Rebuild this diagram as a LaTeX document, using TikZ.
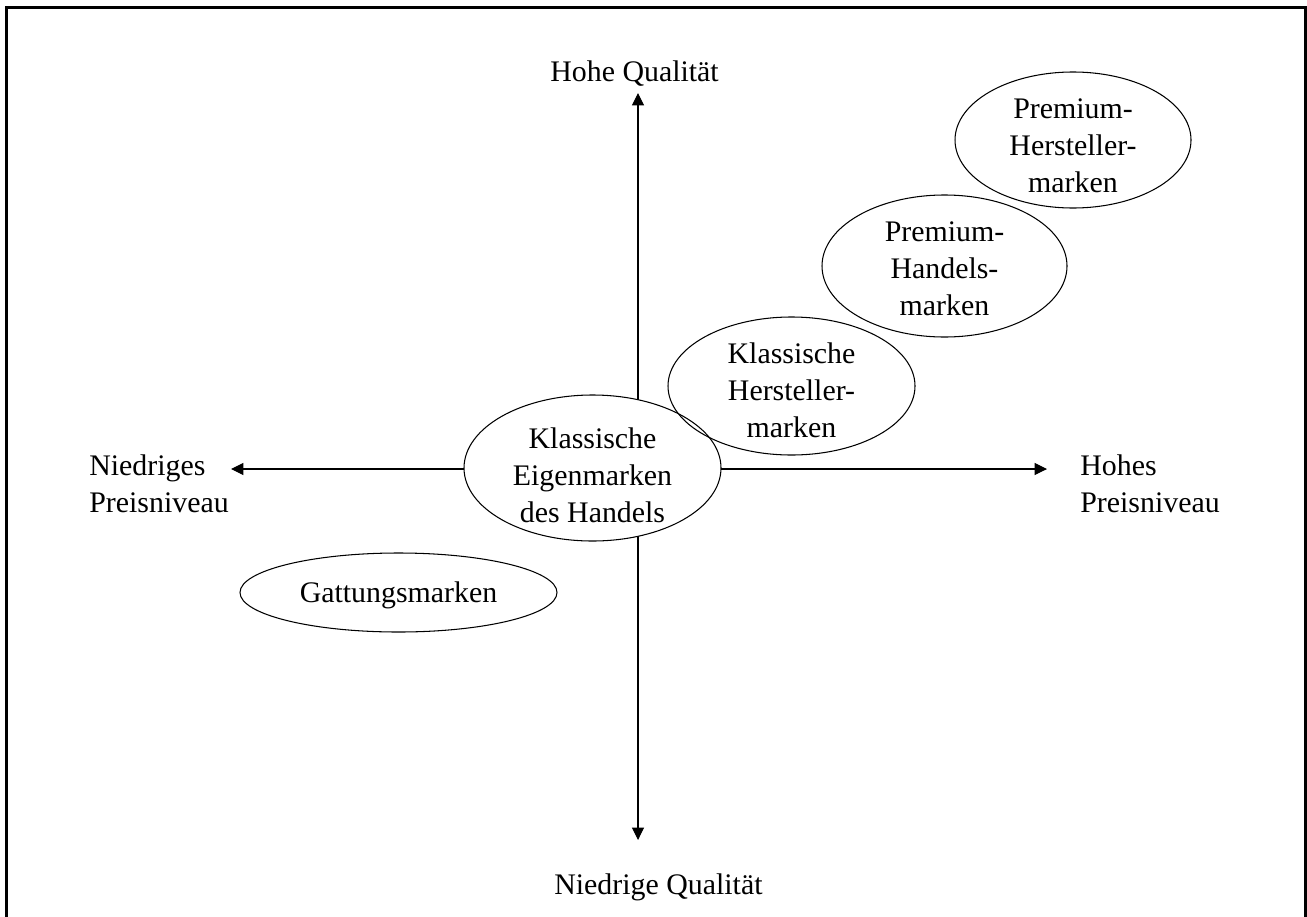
\documentclass[tikz,border=0pt]{standalone}
\usepackage{fontspec}
\setmainfont{Liberation Serif}
\usepackage{tikz}
\usetikzlibrary{arrows.meta,shapes.geometric,positioning}
\definecolor{axisBlack}{RGB}{0,0,0}
\tikzset{
  brandellipse/.style={
    ellipse, draw=black, line width=0.6pt, inner sep=0pt
  },
  brandtext/.style={inner sep=0pt, align=center, font=\fontsize{17}{21}\selectfont},
  axislabel/.style={inner sep=0pt, align=left, font=\fontsize{17}{21}\selectfont},
  axisArrow/.style={-{Triangle[length=7pt,width=6.8pt]}, line width=0.6pt, color=axisBlack}
}

\begin{document}
\begin{tikzpicture}[x=0.02cm, y=-0.02cm]
        \useasboundingbox (0,0) rectangle (1307,916);
        % frame (open at the bottom)
        \draw[line width=1.7pt] (6.2,925) |- (1305.5,7.7) -- (1305.5,925);
        % axes
        \coordinate (o)  at (638,469);
        \coordinate (yt) at (638,93);
        \coordinate (yb) at (638,840);
        \coordinate (xl) at (231,469);
        \coordinate (xr) at (1047,469);
        \draw[axisArrow] (o) -- (yt);
        \draw[axisArrow] (o) -- (yb);
        \draw[axisArrow] (o) -- (xl);
        \draw[axisArrow] (o) -- (xr);
        \node[axislabel, anchor=base west] (hq) at (550,81) {Hohe Qualität};
        \node[axislabel, anchor=base west] (nq) at (554,894) {Niedrige Qualität};
        \node[axislabel, anchor=west] (np) at (89,483.5) {Niedriges\\Preisniveau};
        \node[axislabel, anchor=west] (hp) at (1080,483.5) {Hohes\\Preisniveau};
        % brands
        \node[brandellipse, fill=white, minimum width=257*0.02cm, minimum height=146*0.02cm]
          (ke) at (592.5,468) {};
        \node[brandellipse, minimum width=317*0.02cm, minimum height=79*0.02cm]
          (ga) at (398.5,592.5) {};
        \node[brandellipse, minimum width=247*0.02cm, minimum height=138*0.02cm]
          (kh) at (791.5,386) {};
        \node[brandellipse, minimum width=245*0.02cm, minimum height=142*0.02cm]
          (ph) at (944.5,266) {};
        \node[brandellipse, minimum width=236*0.02cm, minimum height=136*0.02cm]
          (pp) at (1073,140) {};
        \node[brandtext] (ke-t) at ([yshift=-7*0.02cm]ke.center) {Klassische\\Eigenmarken\\des Handels};
        \node[brandtext] (ga-t) at ([yshift=-3*0.02cm]ga.center) {Gattungsmarken};
        \node[brandtext] (kh-t) at ([yshift=-4*0.02cm]kh.center) {Klassische\\Hersteller-\\marken};
        \node[brandtext] (ph-t) at ([yshift=-3*0.02cm]ph.center) {Premium-\\Handels-\\marken};
        \node[brandtext] (pp-t) at ([yshift=-6*0.02cm]pp.center) {Premium-\\Hersteller-\\marken};
      \end{tikzpicture}
\end{document}
